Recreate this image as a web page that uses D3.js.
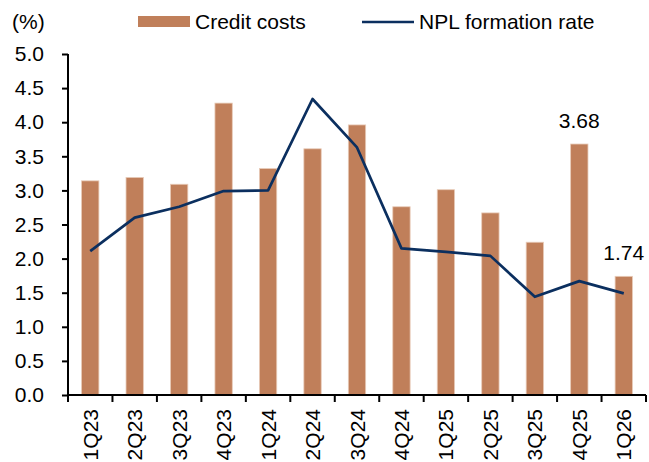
<!DOCTYPE html>
<html>
<head>
<meta charset="utf-8">
<script src="https://cdn.jsdelivr.net/npm/d3@7"></script>
<style>
  body { margin: 0; background: #fff; }
  svg { font-family: "Liberation Sans", Arial, sans-serif; }
</style>
</head>
<body>
<div id="chart"></div>
<script>
// quarters and values
const quarters = ["1Q23", "2Q23", "3Q23", "4Q23", "1Q24", "2Q24", "3Q24", "4Q24", "1Q25", "2Q25", "3Q25", "4Q25", "1Q26"];
const creditCosts = [3.14, 3.19, 3.09, 4.28, 3.32, 3.61, 3.96, 2.76, 3.01, 2.67, 2.24, 3.68, 1.74];
const nplFormation = [2.11, 2.60, 2.76, 2.99, 3.00, 4.34, 3.63, 2.15, 2.10, 2.04, 1.44, 1.67, 1.49];
const yTicks = [0, 0.5, 1, 1.5, 2, 2.5, 3, 3.5, 4, 4.5, 5];
const labelled = ["4Q25", "1Q26"];

const W = 649, H = 462;
const margin = {top: 54, right: 3, bottom: 67, left: 68};
const width = W - margin.left - margin.right;
const height = H - margin.top - margin.bottom;
const fontSize = "21px";

const svg = d3.select("#chart").append("svg")
    .attr("width", W)
    .attr("height", H);

const g = svg.append("g")
    .attr("transform", `translate(${margin.left},${margin.top})`);

const x = d3.scaleBand()
    .domain(quarters)
    .range([0, width])
    .paddingInner(0.61)
    .paddingOuter(0.305);

const y = d3.scaleLinear()
    .domain([0, 5])
    .range([height, 0]);

// bars
g.selectAll("rect.bar")
    .data(quarters)
    .enter().append("rect")
    .attr("class", "bar")
    .attr("x", d => x(d))
    .attr("width", x.bandwidth())
    .attr("y", (d, i) => y(creditCosts[i]))
    .attr("height", (d, i) => height - y(creditCosts[i]))
    .style("fill", "#c07f5a")
    .style("stroke", "#e8cbb8")
    .style("stroke-width", 0.8);

// line
const line = d3.line()
    .x((d, i) => x(quarters[i]) + x.bandwidth() / 2)
    .y(d => y(d));

g.append("path")
    .datum(nplFormation)
    .attr("d", line)
    .style("fill", "none")
    .style("stroke", "#0b2f5f")
    .style("stroke-width", 2.7)
    .style("stroke-linejoin", "round");

// data labels
g.selectAll("text.dlabel")
    .data(labelled)
    .enter().append("text")
    .attr("class", "dlabel")
    .attr("x", d => x(d) + x.bandwidth() / 2)
    .attr("y", d => y(creditCosts[quarters.indexOf(d)]) - 16)
    .attr("text-anchor", "middle")
    .style("font-size", fontSize)
    .style("fill", "#000")
    .text(d => creditCosts[quarters.indexOf(d)].toFixed(2));

// axes
const yAxis = g.append("g")
    .call(d3.axisLeft(y).tickValues(yTicks).tickFormat(d3.format(".1f")).tickSize(6).tickPadding(18));
yAxis.selectAll("text").style("font-size", fontSize).style("fill", "#000");
yAxis.selectAll("line, path").style("stroke", "#000").style("stroke-width", 2);
yAxis.select("path").attr("d", `M0,0V${height}`);

const xTickScale = d3.scalePoint().domain(d3.range(quarters.length + 1)).range([0, width]);
const xTicks = g.append("g")
    .attr("transform", `translate(0,${height})`);
xTicks.append("line")
    .attr("x1", 0).attr("x2", width)
    .style("stroke", "#000").style("stroke-width", 2);
xTicks.selectAll("line.tick")
    .data(xTickScale.domain())
    .enter().append("line")
    .attr("class", "tick")
    .attr("x1", d => xTickScale(d)).attr("x2", d => xTickScale(d))
    .attr("y1", 0).attr("y2", 7)
    .style("stroke", "#000").style("stroke-width", 2);

xTicks.selectAll("text")
    .data(quarters)
    .enter().append("text")
    .attr("transform", d => `translate(${x(d) + x.bandwidth() / 2 + 7.5},14) rotate(-90)`)
    .attr("text-anchor", "end")
    .style("font-size", fontSize)
    .style("fill", "#000")
    .text(d => d);

// unit label
svg.append("text")
    .attr("x", 12)
    .attr("y", 29)
    .style("font-size", fontSize)
    .text("(%)");

// legend
const legend = svg.append("g");
legend.append("rect")
    .attr("x", 138).attr("y", 16)
    .attr("width", 52).attr("height", 11)
    .style("fill", "#c07f5a");
legend.append("text")
    .attr("x", 195).attr("y", 29)
    .style("font-size", fontSize)
    .text("Credit costs");
legend.append("line")
    .attr("x1", 362).attr("x2", 414)
    .attr("y1", 22).attr("y2", 22)
    .style("stroke", "#0b2f5f")
    .style("stroke-width", 2.7);
legend.append("text")
    .attr("x", 419).attr("y", 29)
    .style("font-size", fontSize)
    .text("NPL formation rate");
</script>
</body>
</html>
